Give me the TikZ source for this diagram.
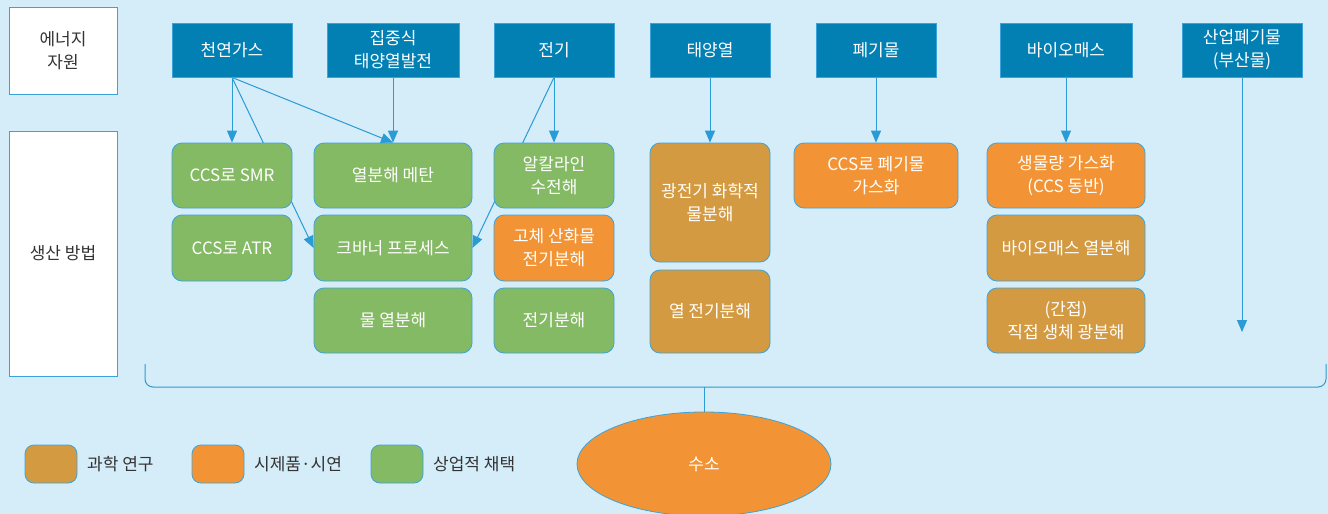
\documentclass[tikz,border=0pt]{standalone}
\usepackage{fontspec}
\setmainfont{Noto Sans CJK KR}
\usetikzlibrary{arrows.meta,shapes.geometric}
\definecolor{bgc}{HTML}{D5ECF9}
\definecolor{srcblue}{HTML}{0280B4}
\definecolor{bord}{HTML}{3BA3DA}
\definecolor{arr}{HTML}{2A9BD4}
\definecolor{cgreen}{HTML}{85BA65}
\definecolor{corange}{HTML}{F29435}
\definecolor{cbrown}{HTML}{D39A41}
\definecolor{txtdark}{HTML}{333333}
\pgfdeclarelayer{bg}
\pgfdeclarelayer{edges}
\pgfsetlayers{bg,edges,main}
\tikzset{
  base/.style={draw=bord, line width=0.8pt, text=white, align=center,
    font=\fontsize{17}{23}\selectfont, inner sep=2pt},
  src/.style={base, fill=srcblue, minimum width=#1, minimum height=54pt},
  prod/.style={base, rounded corners=10pt, minimum width=#1},
  green/.style={fill=cgreen},
  orange/.style={fill=corange},
  brown/.style={fill=cbrown},
  label/.style={draw=bord, line width=0.8pt, fill=white, text=txtdark, align=center,
    font=\fontsize{17}{23}\selectfont, minimum width=108pt},
  conn/.style={draw=arr, line width=1pt},
  arrow/.style={conn, -{Triangle[length=12pt,width=10pt]}},
  legbox/.style={draw=bord, line width=0.8pt, rounded corners=9pt, minimum width=52pt, minimum height=38pt},
  legtext/.style={anchor=west, text=txtdark, font=\fontsize{17}{20}\selectfont, inner sep=0pt}
}
\begin{document}
\begin{tikzpicture}[x=1pt,y=-1pt]
\begin{pgfonlayer}{bg}
\fill[bgc] (0,0) rectangle (1328,514);
\end{pgfonlayer}
\useasboundingbox (0,0) rectangle (1328,514);

% left labels
\node[label, minimum height=87pt] (lres) at (63,50.5) {에너지\\자원};
\node[label, minimum height=245pt] (lprod) at (63,253.5) {생산 방법};

% sources
\node[src=120pt] (ng) at (232,50) {천연가스};
\node[src=132pt] (csp) at (393,50) {집중식\\태양열발전};
\node[src=120pt] (elec) at (554,50) {전기};
\node[src=120pt] (solar) at (710,50) {태양열};
\node[src=120pt] (waste) at (876,50) {폐기물};
\node[src=132pt] (bio) at (1066,50) {바이오매스};
\node[src=120pt] (ind) at (1242,50) {산업폐기물\\(부산물)};

% production methods
\node[prod=120pt, green, minimum height=65pt] (smr) at (232,175.5) {CCS로 SMR};
\node[prod=120pt, green, minimum height=66pt] (atr) at (232,248) {CCS로 ATR};
\node[prod=158pt, green, minimum height=65pt] (pyro) at (393,175.5) {열분해 메탄};
\node[prod=158pt, green, minimum height=66pt] (kv) at (393,248) {크바너 프로세스};
\node[prod=158pt, green, minimum height=65pt] (wth) at (393,320.5) {물 열분해};
\node[prod=120pt, green, minimum height=65pt] (alk) at (554,175.5) {알칼라인\\수전해};
\node[prod=120pt, orange, minimum height=66pt] (soe) at (554,248) {고체 산화물\\전기분해};
\node[prod=120pt, green, minimum height=65pt] (ely) at (554,320.5) {전기분해};
\node[prod=120pt, brown, minimum height=119pt] (pec) at (710,202.5) {광전기 화학적\\물분해};
\node[prod=120pt, brown, minimum height=83pt] (tel) at (710,311.5) {열 전기분해};
\node[prod=164pt, orange, minimum height=65pt] (wg) at (876,175.5) {CCS로 폐기물\\가스화};
\node[prod=158pt, orange, minimum height=65pt] (bg) at (1066,175.5) {생물량 가스화\\(CCS 동반)};
\node[prod=158pt, brown, minimum height=66pt] (bp) at (1066,248) {바이오매스 열분해};
\node[prod=158pt, brown, minimum height=65pt] (bph) at (1066,320.5) {(간접)\\직접 생체 광분해};

\coordinate (indend) at (1242,332);

% connectors
\begin{pgfonlayer}{edges}
\draw[arrow] (ng.south) -- (smr.north);
\draw[arrow] (ng.south) -- (kv.west);
\draw[arrow] (ng.south) -- (pyro.north);
\draw[arrow] (csp.south) -- (pyro.north);
\draw[arrow] (elec.south) -- (alk.north);
\draw[arrow] (elec.south) -- (kv.east);
\draw[arrow] (solar.south) -- (pec.north);
\draw[arrow] (waste.south) -- (wg.north);
\draw[arrow] (bio.south) -- (bg.north);
\draw[arrow] (ind.south) -- (indend);
\end{pgfonlayer}

% bracket and hydrogen
\coordinate (brl) at (145,364);
\coordinate (brr) at (1326,364);
\coordinate (brm) at (704,387);
\draw[conn, rounded corners=8pt] (brl) -- (145,387) -- (1326,387) -- (brr);
\node[ellipse, draw=bord, line width=0.8pt, fill=corange, minimum width=254pt, minimum height=104pt,
  text=white, font=\fontsize{17}{20}\selectfont] (h2) at (704,464) {수소};
\draw[conn] (brm) -- (h2.north);

% legend
\node[legbox, fill=cbrown] (lg1) at (51,464) {};
\node[legtext] (lt1) at (87,464) {과학 연구};
\node[legbox, fill=corange] (lg2) at (218,464) {};
\node[legtext] (lt2) at (254,464) {시제품·시연};
\node[legbox, fill=cgreen] (lg3) at (397,464) {};
\node[legtext] (lt3) at (433,464) {상업적 채택};
\end{tikzpicture}
\end{document}
